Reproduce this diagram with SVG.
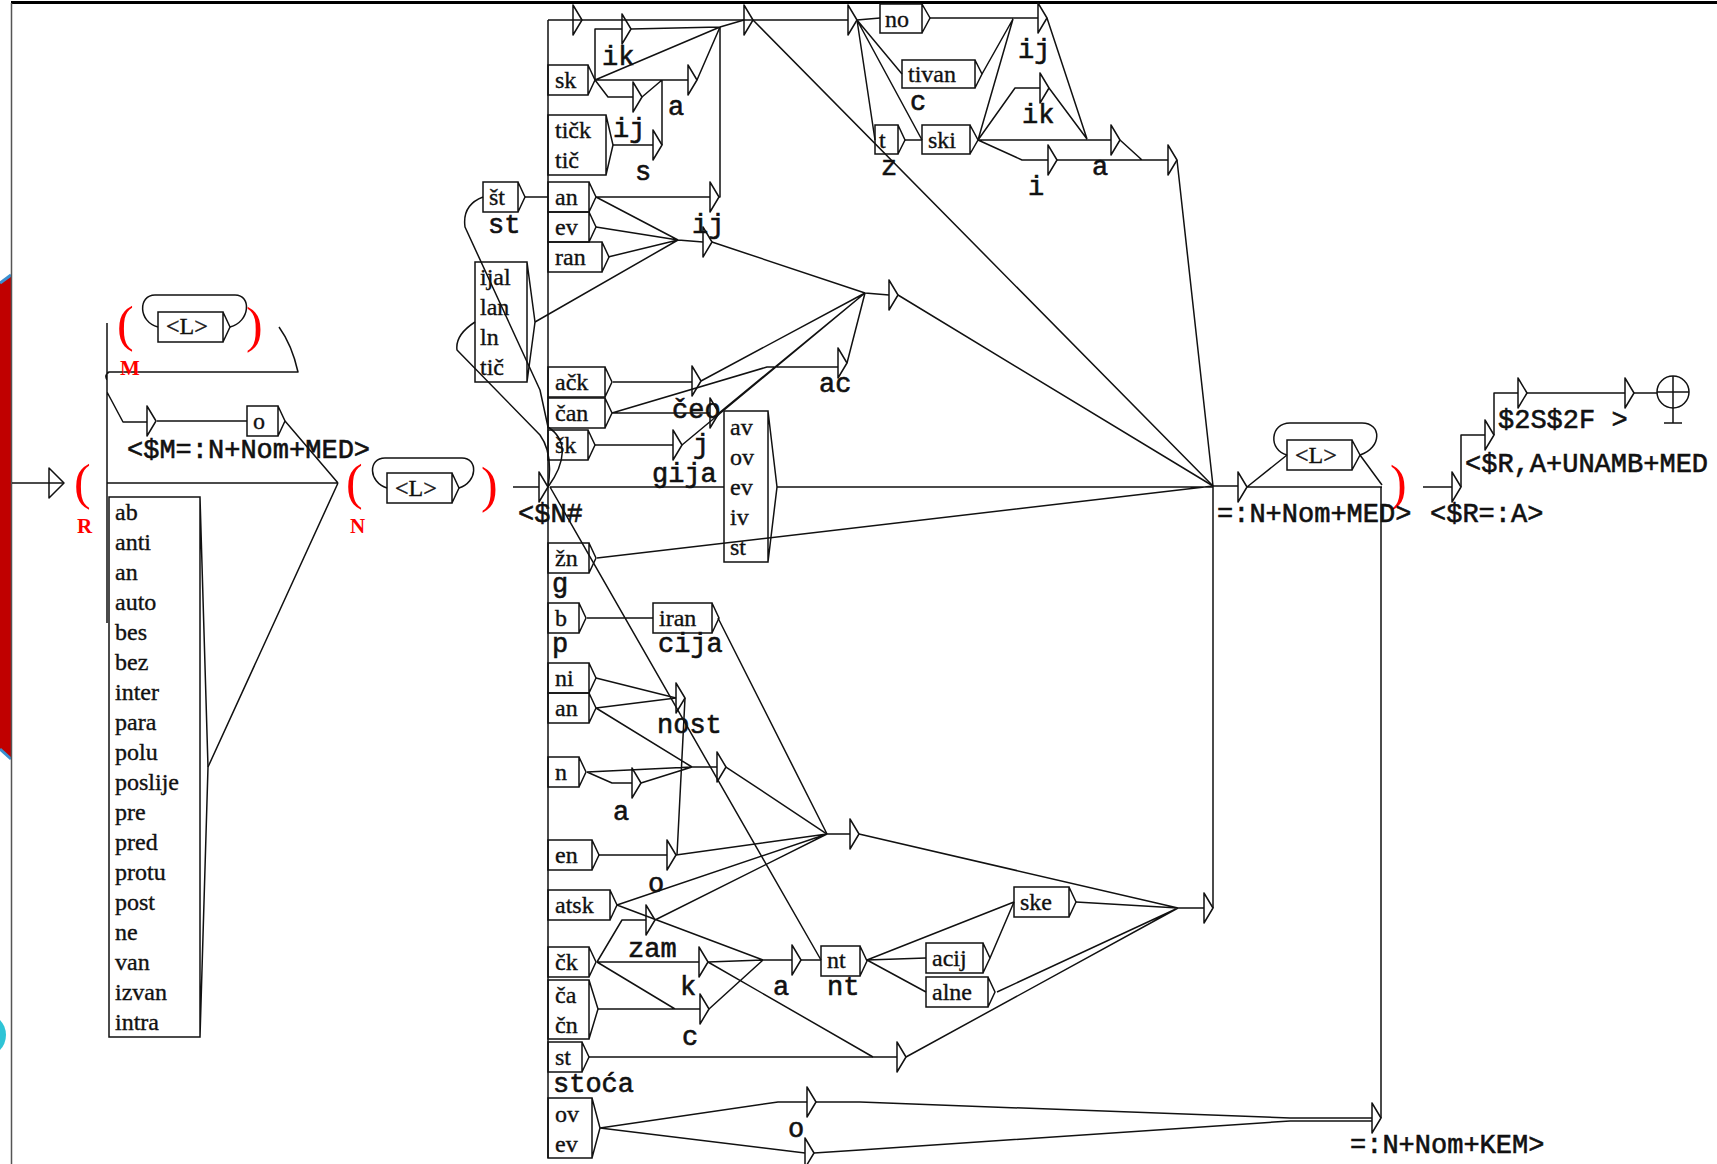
<svg xmlns="http://www.w3.org/2000/svg" xmlns:xlink="http://www.w3.org/1999/xlink" width="1717" height="1164" viewBox="0 0 1717 1164">
<defs>
<style>
.l{stroke:#111;stroke-width:1.5;fill:none;stroke-linejoin:round}
.bx{stroke:#111;stroke-width:1.5;fill:none}
.t{font-family:"Liberation Serif",serif;font-size:24px;fill:#111;stroke:#111;stroke-width:0.35}
.o{font-family:"Liberation Mono",monospace;font-size:27px;font-weight:normal;fill:#111;stroke:#111;stroke-width:0.6}
.rp{font-family:"Liberation Serif",serif;font-size:50px;fill:#f00}
.rl{font-family:"Liberation Serif",serif;font-size:21px;font-weight:bold;fill:#f00}
</style>
<path id="tr" d="M0,-15V15L9,0Z" class="l"/>
</defs>
<rect width="1717" height="1164" fill="#fff"/>
<g id="deco">
<polygon points="0,282 11,275 11,758 0,750" fill="#c00000"/>
<line x1="0" y1="283" x2="11" y2="275" stroke="#3a8fd0" stroke-width="3"/>
<line x1="0" y1="749" x2="11" y2="759" stroke="#3a8fd0" stroke-width="3"/>
<circle cx="-16" cy="1035" r="22" fill="#2ec4d6"/>
<rect x="11" y="1" width="1706" height="3" fill="#000"/>
<line x1="11.5" y1="3" x2="11.5" y2="1164" stroke="#555" stroke-width="1.5"/>
</g>
<g id="edges">
<path class="l" d="M12,483H64M107,323V623M279,327Q292,345 298,372H109Q104,375 107,380V392L123,422H147M157,421H247M107,483H338M285,421L338,483M208,767L338,483"/>
<path class="l" d="M513,487H539M548,20V1158M548,20H848"/>
<path class="l" d="M595,80V29H622M631,29L720,27L744,20M595,80L720,27M595,80H688M697,80L720,27M595,80L608,97H633M642,97L662,80M613,145H653M662,145V80"/>
<path class="l" d="M525,197H548M596,197H710M719,197H720V27M596,197L678,240M596,227L678,240M608,257L678,240M535,322L678,240M678,240L703,242M712,242L865,293L889,295"/>
<path class="l" d="M753,20L1213,486M857,20L880,18M857,20L902,74M857,20L875,140M857,20L922,140M905,140H922"/>
<path class="l" d="M930,18H1038M982,74L1013,19M978,140L1013,19M1047,18L1087,139M1049,88L1087,139M978,140L1015,88H1040M978,140H1111M1120,140L1142,160M978,140L1022,160H1048M1057,160H1168M1177,160L1213,486M898,295L1213,486"/>
<path class="l" d="M548,487C552,462 548,446 540,435L457,350Q455,335 475,322"/>
<path class="l" d="M548,487C566,462 568,440 548,427L540,390L465,227Q462,205 483,197"/>
<path class="l" d="M613,382H692M701,381L865,293M612,413H710M719,413L865,293M612,413L767,367H838M847,363L865,293M595,445H673M682,445L865,293"/>
<path class="l" d="M550,487H724M777,487H1213M597,558L1213,486M550,487L821,960M587,618H653M718,618L827,834"/>
<path class="l" d="M596,678L676,698M596,708L676,698M596,708L692,767M587,772L692,767M587,772L612,783H632M641,783L692,767M692,767H717M726,767L827,834M685,698L677,855"/>
<path class="l" d="M598,855H667M676,855L827,834M617,905L827,834M617,905L763,960M597,962L622,920H646M655,920L827,834M597,962H699M708,962L763,960M708,962L873,1057M597,962L675,1009M598,1009H700M709,1009L763,960M763,960H792M801,960H821"/>
<path class="l" d="M867,960L1014,902M867,960L926,958M867,960L926,992M990,958L1014,902M1076,902L1178,908M997,992L1178,908M906,1057L1178,908M827,834H850M859,834L1178,908M1178,908H1204M1213,908V486M589,1057H897"/>
<path class="l" d="M600,1128L778,1102H807M816,1102H860L1290,1118H1372M600,1128L805,1153M814,1153L860,1150L1290,1121H1372M1381,1118V487"/>
<path class="l" d="M1213,486H1238M1247,487H1382M1247,487L1287,455M1360,455L1382,485M1423,487H1452M1461,487V435H1485M1494,435V393H1518M1527,393H1625M1634,393H1657"/>
</g>
<g id="triangles">
<path class="l" d="M49,468V498L64,483Z"/>
<use xlink:href="#tr" x="147" y="421"/>
<use xlink:href="#tr" x="539" y="487"/>
<use xlink:href="#tr" x="573" y="20"/>
<use xlink:href="#tr" x="622" y="29"/>
<use xlink:href="#tr" x="688" y="80"/>
<use xlink:href="#tr" x="633" y="97"/>
<use xlink:href="#tr" x="653" y="145"/>
<use xlink:href="#tr" x="710" y="197"/>
<use xlink:href="#tr" x="703" y="242"/>
<use xlink:href="#tr" x="744" y="20"/>
<use xlink:href="#tr" x="848" y="20"/>
<use xlink:href="#tr" x="692" y="381"/>
<use xlink:href="#tr" x="710" y="413"/>
<use xlink:href="#tr" x="838" y="363"/>
<use xlink:href="#tr" x="673" y="445"/>
<use xlink:href="#tr" x="889" y="295"/>
<use xlink:href="#tr" x="1038" y="18"/>
<use xlink:href="#tr" x="1040" y="88"/>
<use xlink:href="#tr" x="1111" y="140"/>
<use xlink:href="#tr" x="1048" y="160"/>
<use xlink:href="#tr" x="1168" y="160"/>
<use xlink:href="#tr" x="676" y="698"/>
<use xlink:href="#tr" x="717" y="767"/>
<use xlink:href="#tr" x="632" y="783"/>
<use xlink:href="#tr" x="667" y="855"/>
<use xlink:href="#tr" x="646" y="920"/>
<use xlink:href="#tr" x="699" y="962"/>
<use xlink:href="#tr" x="700" y="1009"/>
<use xlink:href="#tr" x="792" y="960"/>
<use xlink:href="#tr" x="850" y="834"/>
<use xlink:href="#tr" x="897" y="1057"/>
<use xlink:href="#tr" x="1204" y="908"/>
<use xlink:href="#tr" x="807" y="1102"/>
<use xlink:href="#tr" x="805" y="1153"/>
<use xlink:href="#tr" x="1372" y="1118"/>
<use xlink:href="#tr" x="1238" y="487"/>
<use xlink:href="#tr" x="1452" y="487"/>
<use xlink:href="#tr" x="1485" y="435"/>
<use xlink:href="#tr" x="1518" y="393"/>
<use xlink:href="#tr" x="1625" y="393"/>
</g>
<g id="n-R"><text class="rp" x="74" y="499">(</text><text class="rl" x="77" y="533">R</text></g>
<g id="n-M">
<text class="rp" x="117" y="341">(</text>
<path class="bx" d="M158,312h65v30h-65zM223,312l7,15l-7,15"/>
<text class="t" x="166" y="334">&lt;L&gt;</text>
<path class="l" d="M230,327C250,322 252,295 235,295H155C138,295 138,322 158,327"/>
<text class="rp" x="246" y="342">)</text>
<text class="rl" x="120" y="375">M</text>
</g>
<g id="n-o">
<path class="bx" d="M247,406h31v30h-31zM278,406l7,15l-7,15"/>
<text class="t" x="253" y="429">o</text>
<text class="o" x="127" y="458">&lt;$M=:N+Nom+MED&gt;</text>
</g>
<g id="n-prefix">
<path class="bx" d="M109,497H200V1037H109ZM200,497L208,767L200,1037"/>
<text class="t" x="115" y="520">ab</text><text class="t" x="115" y="550">anti</text><text class="t" x="115" y="580">an</text><text class="t" x="115" y="610">auto</text><text class="t" x="115" y="640">bes</text><text class="t" x="115" y="670">bez</text><text class="t" x="115" y="700">inter</text><text class="t" x="115" y="730">para</text><text class="t" x="115" y="760">polu</text><text class="t" x="115" y="790">poslije</text><text class="t" x="115" y="820">pre</text><text class="t" x="115" y="850">pred</text><text class="t" x="115" y="880">protu</text><text class="t" x="115" y="910">post</text><text class="t" x="115" y="940">ne</text><text class="t" x="115" y="970">van</text><text class="t" x="115" y="1000">izvan</text><text class="t" x="115" y="1030">intra</text>
</g>
<g id="n-N">
<text class="rp" x="346" y="499">(</text><text class="rl" x="350" y="533">N</text>
<path class="bx" d="M387,473h65v30h-65zM452,473l7,15l-7,15"/>
<text class="t" x="395" y="496">&lt;L&gt;</text>
<path class="l" d="M459,488C478,482 478,458 462,458H385C368,458 368,482 387,488"/>
<text class="rp" x="481" y="502">)</text>
<text class="o" x="518" y="522">&lt;$N#</text>
</g>
<g id="n-sk"><path class="bx" d="M548,65h40v30h-40zM588,65l7,15l-7,15"/><text class="t" x="555" y="88">sk</text></g>
<g id="n-ticka"><path class="bx" d="M548,115H606V175H548ZM606,115L613,145L606,175"/><text class="t" x="555" y="138">tičk</text><text class="t" x="555" y="168">tič</text></g>
<g id="n-st1"><path class="bx" d="M483,182h35v30h-35zM518,182l7,15l-7,15"/><text class="t" x="489" y="205">št</text></g>
<g id="n-an"><path class="bx" d="M548,182h41v30h-41zM589,182l7,15l-7,15"/><text class="t" x="555" y="205">an</text></g>
<g id="n-ev"><path class="bx" d="M548,212h41v30h-41zM589,212l7,15l-7,15"/><text class="t" x="555" y="235">ev</text></g>
<g id="n-ran"><path class="bx" d="M548,242h54v30h-54zM602,242l7,15l-7,15"/><text class="t" x="555" y="265">ran</text></g>
<g id="n-ijal"><path class="bx" d="M475,262H527V382H475ZM527,262L535,322L527,382"/><text class="t" x="480" y="285">ijal</text><text class="t" x="480" y="315">lan</text><text class="t" x="480" y="345">ln</text><text class="t" x="480" y="375">tič</text></g>
<g id="n-ack"><path class="bx" d="M548,367h57v30h-57zM605,367l7,15l-7,15"/><text class="t" x="555" y="390">ačk</text></g>
<g id="n-can"><path class="bx" d="M548,398h57v30h-57zM605,398l7,15l-7,15"/><text class="t" x="555" y="421">čan</text></g>
<g id="n-sk2"><path class="bx" d="M548,430h40v30h-40zM588,430l7,15l-7,15"/><text class="t" x="555" y="453">šk</text></g>
<g id="n-av"><path class="bx" d="M724,411H768V562H724ZM768,411L777,487L768,562"/><text class="t" x="730" y="435">av</text><text class="t" x="730" y="465">ov</text><text class="t" x="730" y="495">ev</text><text class="t" x="730" y="525">iv</text><text class="t" x="730" y="555">st</text></g>
<g id="n-zn"><path class="bx" d="M548,543h41v30h-41zM589,543l7,15l-7,15"/><text class="t" x="555" y="566">žn</text></g>
<g id="n-b"><path class="bx" d="M548,603h31v30h-31zM579,603l7,15l-7,15"/><text class="t" x="555" y="626">b</text></g>
<g id="n-iran"><path class="bx" d="M653,603h59v30h-59zM712,603l7,15l-7,15"/><text class="t" x="659" y="626">iran</text></g>
<g id="n-ni"><path class="bx" d="M548,663h41v30h-41zM589,663l7,15l-7,15"/><text class="t" x="555" y="686">ni</text></g>
<g id="n-an2"><path class="bx" d="M548,693h41v30h-41zM589,693l7,15l-7,15"/><text class="t" x="555" y="716">an</text></g>
<g id="n-n"><path class="bx" d="M548,757h31v30h-31zM579,757l7,15l-7,15"/><text class="t" x="555" y="780">n</text></g>
<g id="n-en"><path class="bx" d="M548,840h44v30h-44zM592,840l7,15l-7,15"/><text class="t" x="555" y="863">en</text></g>
<g id="n-atsk"><path class="bx" d="M548,890h62v30h-62zM610,890l7,15l-7,15"/><text class="t" x="555" y="913">atsk</text></g>
<g id="n-ck"><path class="bx" d="M548,947h41v30h-41zM589,947l7,15l-7,15"/><text class="t" x="555" y="970">čk</text></g>
<g id="n-ca"><path class="bx" d="M548,980H589V1039H548ZM589,980L598,1009L589,1039"/><text class="t" x="555" y="1003">ča</text><text class="t" x="555" y="1033">čn</text></g>
<g id="n-st"><path class="bx" d="M548,1042h34v30h-34zM582,1042l7,15l-7,15"/><text class="t" x="555" y="1065">st</text></g>
<g id="n-ov"><path class="bx" d="M548,1098H592V1158H548ZM592,1098L600,1128L592,1158"/><text class="t" x="555" y="1122">ov</text><text class="t" x="555" y="1152">ev</text></g>
<g id="n-nt"><path class="bx" d="M821,946h39v30h-39zM860,946l7,15l-7,15"/><text class="t" x="827" y="968">nt</text></g>
<g id="n-ske"><path class="bx" d="M1014,887h55v30h-55zM1069,887l7,15l-7,15"/><text class="t" x="1020" y="910">ske</text></g>
<g id="n-acij"><path class="bx" d="M926,943h57v30h-57zM983,943l7,15l-7,15"/><text class="t" x="932" y="966">acij</text></g>
<g id="n-alne"><path class="bx" d="M926,977h62v30h-62zM988,977l7,15l-7,15"/><text class="t" x="932" y="1000">alne</text></g>
<g id="n-no"><path class="bx" d="M880,4h42v29h-42zM922,4l8,14l-8,15"/><text class="t" x="885" y="27">no</text></g>
<g id="n-tivan"><path class="bx" d="M902,60h73v28h-73zM975,60l7,14l-7,14"/><text class="t" x="908" y="82">tivan</text></g>
<g id="n-t"><path class="bx" d="M875,125h23v29h-23zM898,125l7,15l-7,14"/><text class="t" x="879" y="148">t</text></g>
<g id="n-ski"><path class="bx" d="M922,125h48v29h-48zM970,125l8,15l-8,14"/><text class="t" x="928" y="148">ski</text></g>
<g id="n-L3">
<path class="bx" d="M1287,440h65v30h-65zM1352,440l8,15l-8,15"/>
<text class="t" x="1295" y="463">&lt;L&gt;</text>
<path class="l" d="M1360,455C1382,448 1382,423 1362,423H1290C1270,423 1268,450 1287,455"/>
<text class="rp" x="1390" y="500">)</text>
</g>
<g id="n-final">
<circle class="l" cx="1673" cy="392" r="16"/>
<path class="l" d="M1673,376V423M1657,392H1689M1664,423H1682"/>
</g>
<g id="labels">
<text class="o" x="602" y="65">ik</text>
<text class="o" x="668" y="115">a</text>
<text class="o" x="613" y="137">ij</text>
<text class="o" x="635" y="180">s</text>
<text class="o" x="488" y="233">st</text>
<text class="o" x="692" y="233">ij</text>
<text class="o" x="672" y="418">čeo</text>
<text class="o" x="819" y="392">ac</text>
<text class="o" x="693" y="453">j</text>
<text class="o" x="652" y="482">gija</text>
<text class="o" x="552" y="592">g</text>
<text class="o" x="552" y="652">p</text>
<text class="o" x="658" y="652">cija</text>
<text class="o" x="657" y="733">nost</text>
<text class="o" x="613" y="820">a</text>
<text class="o" x="648" y="892">o</text>
<text class="o" x="628" y="957">zam</text>
<text class="o" x="680" y="995">k</text>
<text class="o" x="773" y="995">a</text>
<text class="o" x="827" y="995">nt</text>
<text class="o" x="682" y="1045">c</text>
<text class="o" x="553" y="1092">stoća</text>
<text class="o" x="788" y="1137">o</text>
<text class="o" x="1018" y="58">ij</text>
<text class="o" x="910" y="110">c</text>
<text class="o" x="1022" y="123">ik</text>
<text class="o" x="881" y="175">z</text>
<text class="o" x="1092" y="175">a</text>
<text class="o" x="1028" y="195">i</text>
<text class="o" x="1217" y="522">=:N+Nom+MED&gt;</text>
<text class="o" x="1430" y="522">&lt;$R=:A&gt;</text>
<text class="o" x="1465" y="472">&lt;$R,A+UNAMB+MED</text>
<text class="o" x="1498" y="428">$2S$2F &gt;</text>
<text class="o" x="1350" y="1153">=:N+Nom+KEM&gt;</text>
</g>
</svg>
